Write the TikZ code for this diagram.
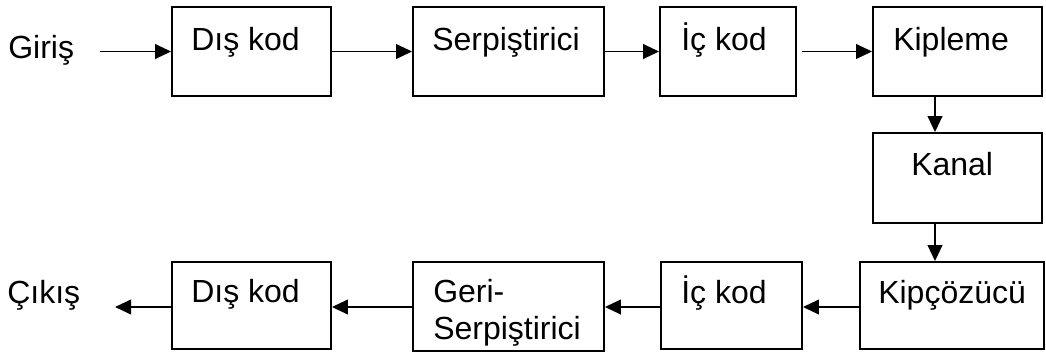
\documentclass[tikz,border=0pt]{standalone}
\usepackage{fontspec}
\setmainfont{Liberation Sans}
\usetikzlibrary{arrows.meta}
\begin{document}
\begin{tikzpicture}[x=0.75pt,y=-0.75pt,
  blk/.style={draw,line width=1.4pt,inner sep=0pt},
  txt/.style={anchor=base west,inner sep=0pt,font=\fontsize{24}{28}\selectfont},
  conn/.style={line width=1.4pt,-{Triangle[length=12pt,width=11pt]}}]
\useasboundingbox (0,0) rectangle (1046,354);
% boxes
\node[blk,minimum width=159*0.75pt,minimum height=89*0.75pt] (b1) at (251.5,51.5) {};
\node[blk,minimum width=191*0.75pt,minimum height=89*0.75pt] (b2) at (508.5,51.5) {};
\node[blk,minimum width=136*0.75pt,minimum height=89*0.75pt] (b3) at (728,51.5) {};
\node[blk,minimum width=169*0.75pt,minimum height=89*0.75pt] (b4) at (957.5,51.5) {};
\node[blk,minimum width=169*0.75pt,minimum height=90*0.75pt] (b5) at (957.5,178) {};
\node[blk,minimum width=184*0.75pt,minimum height=87*0.75pt] (b6) at (952,305.5) {};
\node[blk,minimum width=141*0.75pt,minimum height=87*0.75pt] (b7) at (731.5,305.5) {};
\node[blk,minimum width=191*0.75pt,minimum height=89*0.75pt] (b8) at (508.5,306.5) {};
\node[blk,minimum width=159*0.75pt,minimum height=87*0.75pt] (b9) at (251.5,305.5) {};
% texts
\node[txt] (tin) at (8,58) {Giriş};
\node[txt] (t1) at (191,50) {Dış kod};
\node[txt] (t2) at (432,50) {Serpiştirici};
\node[txt] (t3) at (681,50) {İç kod};
\node[txt] (t4) at (893,50) {Kipleme};
\node[txt] (t5) at (911,175) {Kanal};
\node[txt] (t6) at (878,303) {Kipçözücü};
\node[txt] (t7) at (681,303) {İç kod};
\node[txt] (t8a) at (433,302) {Geri-};
\node[txt] (t8b) at (433,339) {Serpiştirici};
\node[txt] (t9) at (191,302) {Dış kod};
\node[txt] (tout) at (7,303) {Çıkış};
% connector coordinates
\coordinate (cin) at (100,51.5);
\coordinate (c34) at (802,51.5);
\coordinate (cout) at (115,307);
% connectors
\draw[conn] (cin) -- (b1.west);
\draw[conn] (b1.east) -- (b2.west);
\draw[conn] (b2.east) -- (b3.west);
\draw[conn] (c34) -- (b4.west);
\draw[conn] (b4.south -| 935,0) -- (b5.north -| 935,0);
\draw[conn] (b5.south -| 935,0) -- (b6.north -| 935,0);
\draw[conn] (b6.west |- 0,307) -- (b7.east |- 0,307);
\draw[conn] (b7.west |- 0,307) -- (b8.east |- 0,307);
\draw[conn] (b8.west |- 0,307) -- (b9.east |- 0,307);
\draw[conn] (b9.west |- 0,307) -- (cout);
\end{tikzpicture}
\end{document}
